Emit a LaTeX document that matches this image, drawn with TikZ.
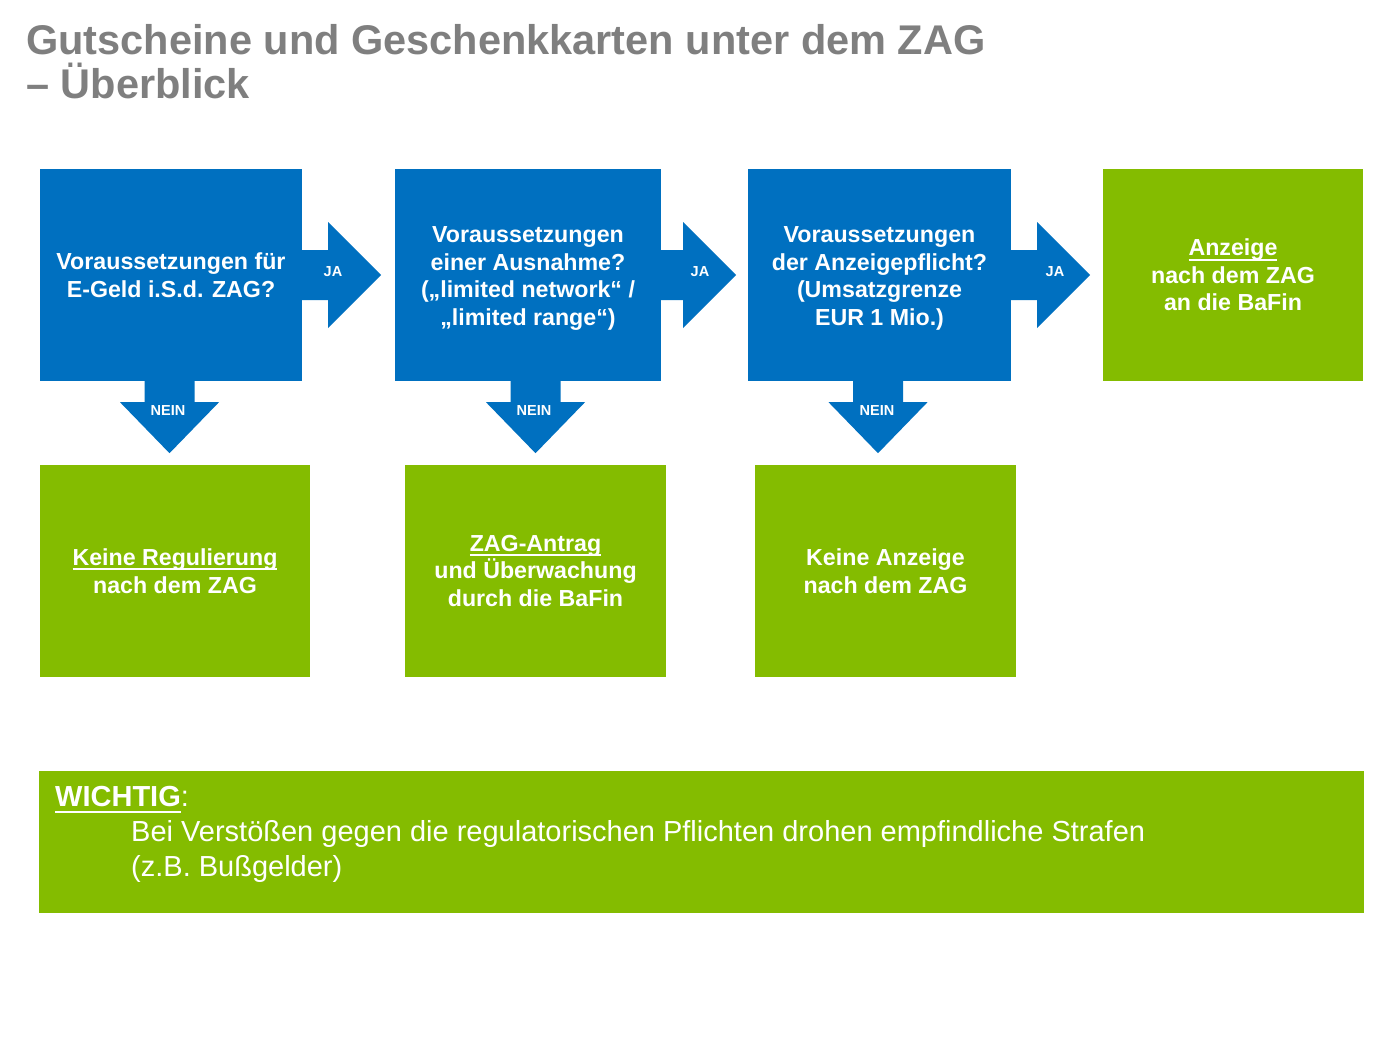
\documentclass[tikz,border=0pt]{standalone}
\usepackage{fontspec}
\setmainfont{Liberation Sans}
\usetikzlibrary{calc}
\definecolor{bluec}{HTML}{0070C0}
\definecolor{greenc}{HTML}{84BC00}
\definecolor{titlegray}{HTML}{7F7F7F}
\newsavebox{\ulxbox}
\newcommand{\ulx}[3]{\leavevmode\sbox{\ulxbox}{#3}\rlap{\rule[-#1]{\wd\ulxbox}{#2}}\usebox{\ulxbox}}
\tikzset{
  boxtext/.style={text=white, align=center, inner sep=0pt, font=\bfseries\fontsize{23.2}{27.7}\selectfont},
  bluebox/.style={boxtext, fill=bluec, minimum height=212pt},
  greenbox/.style={boxtext, fill=greenc, minimum height=212pt},
  arrowfill/.style={fill=bluec},
  smalllabel/.style={text=white, inner sep=0pt, font=\bfseries\fontsize{14.5}{16}\selectfont},
  titletext/.style={text=titlegray, inner sep=0pt, anchor=base west, font=\bfseries\fontsize{41.5}{44}\selectfont},
  notetext/.style={text=white, inner sep=0pt, anchor=base west, font=\fontsize{29}{34}\selectfont}
}
\begin{document}
\begin{tikzpicture}[x=1pt,y=-1pt]
\useasboundingbox[fill=white] (0,0) rectangle (1383,1050);
% title
\node[titletext] (title1) at (26,54) {Gutscheine und Geschenkkarten unter dem ZAG};
\node[titletext] (title2) at (26,98) {– Überblick};
% top row
\node[bluebox, minimum width=262pt] (b1) at (171,275) {Voraussetzungen für\\E-Geld i.S.d. ZAG?};
\node[bluebox, minimum width=266pt] (b2) at (528,275) {};
\node[boxtext] (b2text) at ($(b2.center)+(0,3.5)$) {Voraussetzungen\\einer Ausnahme?\\(„limited network“ /\\„limited range“)};
\node[bluebox, minimum width=263pt] (b3) at (879.5,275) {};
\node[boxtext] (b3text) at ($(b3.center)+(0,3.5)$) {Voraussetzungen\\der Anzeigepflicht?\\(Umsatzgrenze\\EUR 1 Mio.)};
\node[greenbox, minimum width=260pt] (g4) at (1233,275) {\ulx{5pt}{2pt}{Anzeige}\\nach dem ZAG\\an die BaFin};
% bottom row
\node[greenbox, minimum width=270pt] (r1) at (175,571) {\ulx{5pt}{2pt}{Keine Regulierung}\\nach dem ZAG};
\node[greenbox, minimum width=261pt] (r2) at (535.5,571) {\ulx{5pt}{2pt}{ZAG-Antrag}\\und Überwachung\\durch die BaFin};
\node[greenbox, minimum width=261pt] (r3) at (885.5,571) {Keine Anzeige\\nach dem ZAG};
% right arrows (JA)
\fill[arrowfill] ($(b1.east)+(-1,-25)$) -- ++(27,0) -- ++(0,-28) -- ++(53,53) -- ++(-53,53) -- ++(0,-28) -- ++(-27,0) -- cycle;
\fill[arrowfill] ($(b2.east)+(-1,-25)$) -- ++(23,0) -- ++(0,-28) -- ++(53,53) -- ++(-53,53) -- ++(0,-28) -- ++(-23,0) -- cycle;
\fill[arrowfill] ($(b3.east)+(-1,-25)$) -- ++(27,0) -- ++(0,-28) -- ++(53,53) -- ++(-53,53) -- ++(0,-28) -- ++(-27,0) -- cycle;
% down arrows (NEIN)
\fill[arrowfill] ($(b1.south)+(-26.5,-1)$) -- ++(0,22) -- ++(-24.5,0) -- ++(49.5,51) -- ++(49.5,-51) -- ++(-24.5,0) -- ++(0,-22) -- cycle;
\fill[arrowfill] ($(b2.south)+(-17.5,-1)$) -- ++(0,22) -- ++(-24.5,0) -- ++(49.5,51) -- ++(49.5,-51) -- ++(-24.5,0) -- ++(0,-22) -- cycle;
\fill[arrowfill] ($(b3.south)+(-26.5,-1)$) -- ++(0,22) -- ++(-24.5,0) -- ++(49.5,51) -- ++(49.5,-51) -- ++(-24.5,0) -- ++(0,-22) -- cycle;
% labels
\node[smalllabel] (ja1) at (333,271.5) {JA};
\node[smalllabel] (ja2) at (700,271.5) {JA};
\node[smalllabel] (ja3) at (1055,271.5) {JA};
\node[smalllabel] (nein1) at (168,411) {NEIN};
\node[smalllabel] (nein2) at (534,411) {NEIN};
\node[smalllabel] (nein3) at (877,411) {NEIN};
% bottom note
\node[fill=greenc, minimum width=1325pt, minimum height=142pt, inner sep=0pt] (note) at (701.5,842) {};
\node[notetext] (wichtig) at (55,806) {\ulx{7pt}{2.5pt}{\bfseries WICHTIG}:};
\node[notetext] (line1) at (131,841) {Bei Verstößen gegen die regulatorischen Pflichten drohen empfindliche Strafen};
\node[notetext] (line2) at (131,876) {(z.B. Bußgelder)};
\end{tikzpicture}
\end{document}
